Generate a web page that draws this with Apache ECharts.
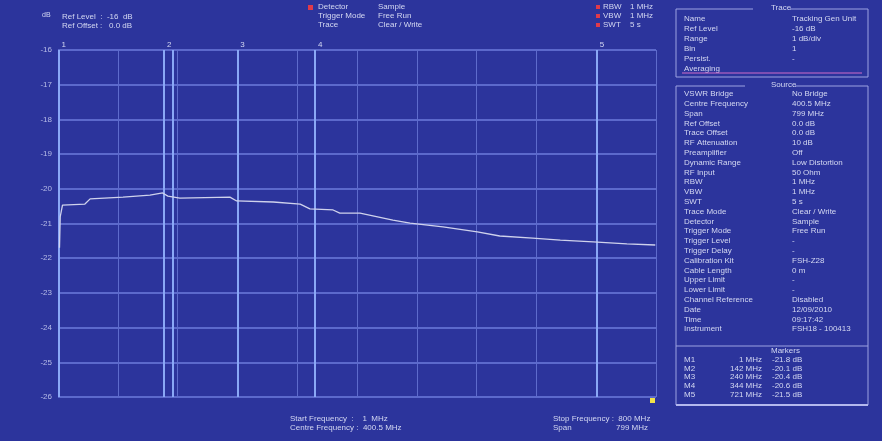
<!DOCTYPE html>
<html><head><meta charset="utf-8">
<script src="https://cdn.jsdelivr.net/npm/echarts@6/dist/echarts.min.js"></script>
<style>html,body{margin:0;padding:0;background:#2c349c;}#c{width:882px;height:441px;}</style>
</head><body><div id="c"></div>
<script>
// ---- data ----
var freqMHz = [2, 3, 6, 36, 43, 87, 123, 140, 147, 163, 230, 239, 288, 324, 337, 368, 377, 404, 448, 471, 515, 561, 591, 635, 672, 716, 761, 799];
var levelDb = [-21.7, -20.8, -20.47, -20.44, -20.29, -20.24, -20.18, -20.12, -20.21, -20.27, -20.24, -20.35, -20.38, -20.44, -20.58, -20.61, -20.70, -20.70, -20.90, -20.99, -21.10, -21.24, -21.36, -21.42, -21.48, -21.53, -21.59, -21.62];
var markerNames = ['1', '2', '', '3', '4', '5'];
var markerFreqs = [1, 142, 154, 240, 344, 721];
var tableMarkers = ['M1', 'M2', 'M3', 'M4', 'M5'];
var tableFreqs = ['1 MHz', '142 MHz', '240 MHz', '344 MHz', '721 MHz'];
var tableLevels = ['-21.8 dB', '-20.1 dB', '-20.4 dB', '-20.6 dB', '-21.5 dB'];
var traceLabels = ['Name', 'Ref Level', 'Range', 'Bin', 'Persist.', 'Averaging'];
var traceValues = ['Tracking Gen Unit', '-16 dB', '1 dB/div', '1', '-', ''];
var sourceLabels = ['VSWR Bridge', 'Centre Frequency', 'Span', 'Ref Offset', 'Trace Offset', 'RF Attenuation', 'Preamplifier', 'Dynamic Range', 'RF Input', 'RBW', 'VBW', 'SWT', 'Trace Mode', 'Detector', 'Trigger Mode', 'Trigger Level', 'Trigger Delay', 'Calibration Kit', 'Cable Length', 'Upper Limit', 'Lower Limit', 'Channel Reference', 'Date', 'Time', 'Instrument'];
var sourceValues = ['No Bridge', '400.5 MHz', '799 MHz', '0.0 dB', '0.0 dB', '10 dB', 'Off', 'Low Distortion', '50 Ohm', '1 MHz', '1 MHz', '5 s', 'Clear / Write', 'Sample', 'Free Run', '-', '-', 'FSH-Z28', '0 m', '-', '-', 'Disabled', '12/09/2010', '09:17:42', 'FSH18 - 100413'];
var yMin = -26, yMax = -16, yStep = 1;
var xMin = 0, xMax = 800, xStep = 80;

// ---- chart ----
var chart = echarts.init(document.getElementById('c'));
var txtColor = '#d4d8f2';
var font = 'Liberation Sans, Arial, sans-serif';
var g = [];
function T(x, y, s, opt) {
  opt = opt || {};
  g.push({type: 'text', left: x, top: y, silent: true,
    style: {text: s, fill: opt.color || txtColor, font: (opt.size || 8) + 'px ' + font, textAlign: opt.align || 'left'}});
}
function TR(xr, y, s, opt) {
  opt = opt || {};
  g.push({type: 'text', x: xr, y: y, silent: true,
    style: {text: s, fill: opt.color || txtColor, font: (opt.size || 8) + 'px ' + font, textAlign: 'right', textVerticalAlign: 'top'}});
}
function L(x1, y1, x2, y2, c, w) {
  g.push({type: 'line', silent: true, shape: {x1: x1, y1: y1, x2: x2, y2: y2}, style: {stroke: c || '#9ca2e2', lineWidth: w || 1}});
}
function R(x, y, w, h, c) {
  g.push({type: 'rect', silent: true, shape: {x: x, y: y, width: w, height: h}, style: {fill: c}});
}
// top-left
T(42, 12, 'dB', {size: 7});
T(62, 13, 'Ref Level  :  -16  dB');
T(62, 22, 'Ref Offset :   0.0 dB');
// top-center
R(308, 5, 5, 5, '#e03a4a');
T(318, 3, 'Detector'); T(378, 3, 'Sample');
T(318, 12, 'Trigger Mode'); T(378, 12, 'Free Run');
T(318, 21, 'Trace'); T(378, 21, 'Clear / Write');
// top-right
['RBW', 'VBW', 'SWT'].forEach(function (k, i) { R(596, 5 + i * 9, 4, 4, '#e03a4a'); });
T(603, 3, 'RBW'); T(630, 3, '1 MHz');
T(603, 12, 'VBW'); T(630, 12, '1 MHz');
T(603, 21, 'SWT'); T(630, 21, '5 s');
// bottom
T(290, 415, 'Start Frequency  :    1  MHz');
T(290, 424, 'Centre Frequency :  400.5 MHz');
T(553, 415, 'Stop Frequency :  800 MHz');
T(553, 424, 'Span');  TR(648, 424, '799 MHz');
R(650, 398, 5, 5, '#f2e24a');

// right panel: Trace box
L(676, 9, 753, 9); L(790, 9, 868, 9); L(676, 9, 676, 77); L(868, 9, 868, 77); L(676, 77, 868, 77);
T(771, 4, 'Trace', {align: 'center'});
traceLabels.forEach(function (s, i) { T(684, 15 + i * 10, s); T(792, 15 + i * 10, traceValues[i]); });
L(682, 73, 862, 73, '#d06ac8', 1);
// Source box
L(676, 86, 745, 86); L(795, 86, 868, 86); L(676, 86, 676, 405); L(868, 86, 868, 405); L(676, 405, 868, 405, '#b4b8ee', 2);
T(771, 81, 'Source', {align: 'center'});
sourceLabels.forEach(function (s, i) { T(684, 90 + i * 9.8, s); T(792, 90 + i * 9.8, sourceValues[i]); });
L(676, 346, 868, 346);
T(771, 347, 'Markers', {align: 'center'});
tableMarkers.forEach(function (s, i) {
  T(684, 356 + i * 8.6, s); TR(762, 356 + i * 8.6, tableFreqs[i]); T(772, 356 + i * 8.6, tableLevels[i]);
});

var markLines = markerFreqs.map(function (f, i) {
  return {xAxis: f, label: {show: !!markerNames[i], formatter: markerNames[i], position: 'end', color: txtColor, fontSize: 8, distance: 1, offset: [5, 0]}};
});

chart.setOption({
  backgroundColor: '#2c349c',
  animation: false,
  grid: {left: 58, right: 226, top: 50, bottom: 44},
  xAxis: {type: 'value', min: xMin, max: xMax, interval: xStep,
    axisLine: {show: false}, axisTick: {show: false}, axisLabel: {show: false},
    splitLine: {show: true, lineStyle: {color: '#5e6bcc', width: 1}}},
  yAxis: {type: 'value', min: yMin, max: yMax, interval: yStep,
    axisLine: {show: false}, axisTick: {show: false},
    axisLabel: {color: '#b8bde8', fontSize: 8, fontFamily: font, margin: 6, formatter: function (v) { return String(v); }},
    splitLine: {show: true, lineStyle: {color: '#6d7bdc', width: 1.5}}},
  graphic: g,
  series: [{
    type: 'line', data: freqMHz.map(function (f, i) { return [f, levelDb[i]]; }),
    showSymbol: false, z: 5, lineStyle: {color: '#cfd2ec', width: 1.3},
    markLine: {silent: true, symbol: 'none', z: 3, lineStyle: {color: '#8aa8f6', width: 2, type: 'solid'}, data: markLines}
  }]
});
</script></body></html>
